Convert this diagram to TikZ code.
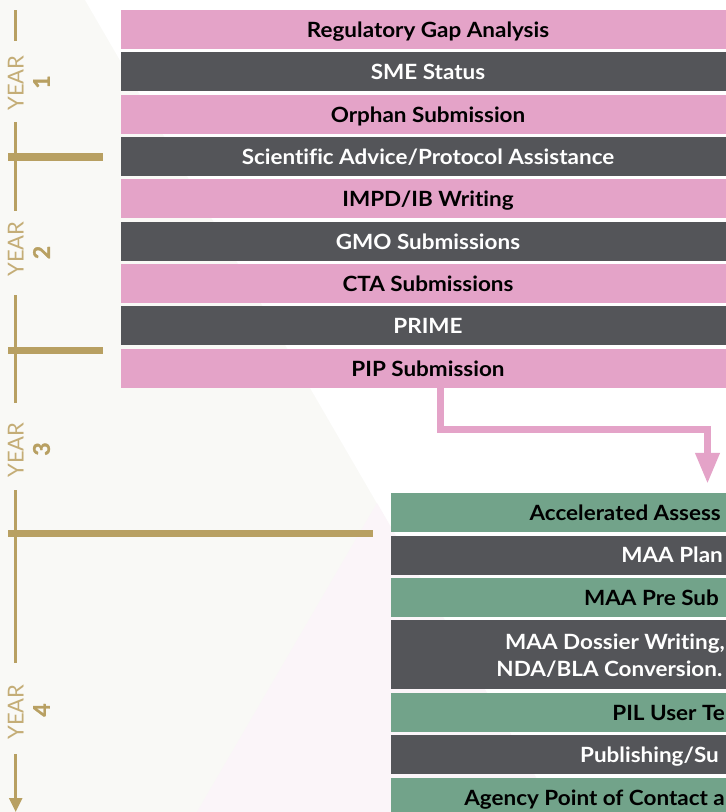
\documentclass[tikz,border=0pt]{standalone}
\usepackage{fontspec}
\setmainfont{Lato}[FakeStretch=1.07, Ligatures={NoCommon}]
\newfontfamily\yearfont{Lato}
\newfontfamily\yearnumfont{Lato}[BoldFeatures={FakeBold=1.2}]
\usetikzlibrary{arrows.meta}
\definecolor{bgoff}{HTML}{F9F9F6}
\definecolor{pinktint}{HTML}{FBF5F9}
\definecolor{pinkbar}{HTML}{E4A3C8}
\definecolor{darkbar}{HTML}{545559}
\definecolor{greenbar}{HTML}{72A38A}
\definecolor{gold}{HTML}{B8A062}
\definecolor{goldtext}{HTML}{C4AD76}
\begin{document}
\begin{tikzpicture}[x=1pt,y=1pt,
  bar/.style={rectangle, inner sep=0pt, minimum width=614pt, minimum height=39pt,
    text height=15pt, text depth=0pt, font=\fontsize{21}{25}\selectfont\bfseries},
  pbar/.style={bar, fill=pinkbar, text=black},
  dbar/.style={bar, fill=darkbar, text=white},
  gbox/.style={rectangle, inner sep=0pt, minimum width=640pt, minimum height=39pt, anchor=west, fill=greenbar},
  dbox/.style={gbox, fill=darkbar},
  lbl/.style={anchor=base east, inner sep=0pt, font=\fontsize{21}{25}\selectfont\bfseries, text=black},
  wlbl/.style={lbl, text=white},
  yearlbl/.style={rotate=90, inner sep=0pt, text=goldtext, font=\yearfont\fontsize{22}{26}\selectfont},
  yearnum/.style={rotate=90, inner sep=0pt, text=gold, font=\yearnumfont\fontsize{23}{26}\selectfont\bfseries},
  axisline/.style={draw=gold, line width=2.5pt},
  tick/.style={draw=gold, line width=7.5pt},
  conn/.style={draw=pinkbar, line width=7pt, line join=miter, -{Triangle[width=23pt,length=31pt]}}
]
\useasboundingbox (0,0) rectangle (726,-812);
\clip (0,0) rectangle (726,-812);
% background
\fill[bgoff] (0,0) rectangle (726,-812);
\fill[white] (85,0) -- (726,0) -- (726,-812) -- (556,-812) -- cycle;
\fill[pinktint] (377,-503) -- (556,-812) -- (197,-812) -- cycle;

% top bars
\node[pbar] (b1) at (428,-29.5) {Regulatory Gap Analysis};
\node[dbar] (b2) at (428,-71.5) {SME Status};
\node[pbar] (b3) at (428,-114.5) {Orphan Submission};
\node[dbar] (b4) at (428,-156.5) {Scientific Advice/Protocol Assistance};
\node[pbar] (b5) at (428,-198.5) {IMPD/IB Writing};
\node[dbar] (b6) at (428,-241.5) {GMO Submissions};
\node[pbar] (b7) at (428,-283.5) {CTA Submissions};
\node[dbar] (b8) at (428,-325.5) {PRIME};
\node[pbar] (pip) at (428,-368.5) {PIP Submission};

% lower bars
\node[gbox] (g1) at (391,-512.5) {};
\node[dbox] (g2) at (391,-555) {};
\node[gbox] (g3) at (391,-597.5) {};
\node[dbox, minimum height=69pt] (g4) at (391,-654.5) {};
\node[gbox] (g5) at (391,-712.5) {};
\node[dbox] (g6) at (391,-754.5) {};
\node[gbox] (g7) at (391,-797.5) {};

\node[lbl] (t1) at (721,-520.5) {Accelerated Assess};
\node[wlbl] (t2) at (723,-562.5) {MAA Plan};
\node[lbl] (t3) at (719,-605) {MAA Pre Sub};
\node[wlbl] (t4a) at (725,-649.3) {MAA Dossier Writing,};
\node[wlbl] (t4b) at (722.5,-676) {NDA/BLA Conversion.};
\node[lbl] (t5) at (725,-720) {PIL User Te};
\node[wlbl] (t6) at (719,-762) {Publishing/Su};
\node[lbl] (t7) at (725,-805) {Agency Point of Contact a};

% connector
\coordinate (k1) at (440,-429.5);
\coordinate (k2) at (707.5,-429.5);
\draw[conn] (pip.south -| k1) -- (k1) -- (k2) -- ([yshift=9pt]g1.north -| k2);

% timeline axis
\node[yearlbl] (y1) at (15.7,-83) {YEAR};
\node[yearnum] (n1) at (41.5,-82) {1};
\node[yearlbl] (y2) at (15.7,-249) {YEAR};
\node[yearnum] (n2) at (41.5,-252.5) {2};
\node[yearlbl] (y3) at (15.7,-450) {YEAR};
\node[yearnum] (n3) at (41.5,-449) {3};
\node[yearlbl] (y4) at (15.7,-712) {YEAR};
\node[yearnum] (n4) at (41.5,-710) {4};

\coordinate (a0) at (15.7,-10);
\coordinate (a1) at (15.7,-41);
\coordinate (a2) at (15.7,-122);
\coordinate (a3) at (15.7,-211);
\coordinate (a4) at (15.7,-295);
\coordinate (a5) at (15.7,-403);
\coordinate (a6) at (15.7,-490);
\coordinate (a7) at (15.7,-663);
\coordinate (a8) at (15.7,-754);
\coordinate (a9) at (15.7,-812);
\draw[axisline] (a0) -- (a1);
\draw[axisline] (a2) -- (a3);
\draw[axisline] (a4) -- (a5);
\draw[axisline] (a6) -- (a7);
\draw[axisline, -{Triangle[width=13pt,length=14pt]}] (a8) -- (a9);

\draw[tick] (8,-157) -- (103,-157);
\draw[tick] (8,-350.5) -- (103,-350.5);
\draw[tick] (8,-533.5) -- (373,-533.5);
\end{tikzpicture}
\end{document}
